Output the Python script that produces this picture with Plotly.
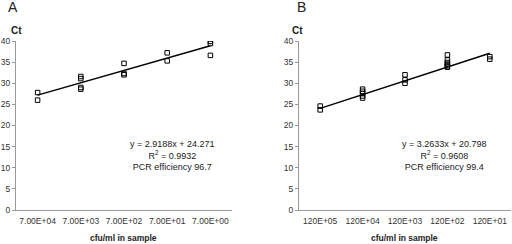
import plotly.graph_objects as go

# Panel A data
cats_a = ["7.00E+04", "7.00E+03", "7.00E+02", "7.00E+01", "7.00E+00"]
a_x = [1, 1, 2, 2, 2, 2, 3, 3, 3, 4, 4, 5, 5, 5]
a_ct = [27.8, 26.0, 31.6, 31.1, 29.0, 28.6, 34.7, 32.3, 32.0, 37.2, 35.3, 39.9, 39.4, 36.6]
a_slope, a_intercept = 2.9188, 24.271
a_text = "y = 2.9188x + 24.271<br>R<sup>2</sup> = 0.9932<br>PCR efficiency 96.7"

# Panel B data
cats_b = ["120E+05", "120E+04", "120E+03", "120E+02", "120E+01"]
b_x = [1, 1, 2, 2, 2, 2, 2, 3, 3, 3, 4, 4, 4, 4, 4, 4, 5, 5]
b_ct = [24.6, 23.7, 28.6, 28.1, 27.6, 27.0, 26.5, 32.0, 30.8, 30.0,
        36.7, 35.5, 34.9, 34.5, 34.1, 33.8, 36.3, 35.7]
b_slope, b_intercept = 3.2633, 20.798
b_text = "y = 3.2633x + 20.798<br>R<sup>2</sup> = 0.9608<br>PCR efficiency 99.4"

y_ticks = [0, 5, 10, 15, 20, 25, 30, 35, 40]
trend_x = [1, 5]

W, H = 512, 244
FONT = "Liberation Sans, Arial, sans-serif"

fig = go.Figure()

panels = [
    ("x", "y", a_x, a_ct, a_slope, a_intercept),
    ("x2", "y2", b_x, b_ct, b_slope, b_intercept),
]
for xa, ya, xs, ys, s, b in panels:
    fig.add_trace(go.Scatter(
        x=xs, y=ys, mode="markers", xaxis=xa, yaxis=ya,
        marker=dict(symbol="square-open", size=4.5, color="black",
                    line=dict(width=1, color="black")),
        showlegend=False, hoverinfo="skip"))
    fig.add_trace(go.Scatter(
        x=trend_x, y=[s * t + b for t in trend_x], mode="lines",
        xaxis=xa, yaxis=ya, line=dict(color="black", width=1.5),
        showlegend=False, hoverinfo="skip"))

ydom = [34 / H, 203 / H]
axis_common = dict(showgrid=False, zeroline=False, showline=True,
                   linecolor="#999999", linewidth=1, automargin=False,
                   tickfont=dict(family=FONT, size=8.5, color="#333333"))

fig.update_layout(
    width=W, height=H, margin=dict(l=0, r=0, t=0, b=0),
    paper_bgcolor="white", plot_bgcolor="white",
    xaxis=dict(domain=[16 / W, 232 / W], range=[0.5, 5.5],
               tickvals=[1, 2, 3, 4, 5], ticktext=cats_a, ticks="",
               ticklabelstandoff=3, anchor="y", **axis_common),
    yaxis=dict(domain=ydom, range=[0, 40], tickvals=y_ticks,
               ticks="outside", ticklen=3, tickcolor="#999999",
               anchor="x", **axis_common),
    xaxis2=dict(domain=[299 / W, 511 / W], range=[0.5, 5.5],
                tickvals=[1, 2, 3, 4, 5], ticktext=cats_b, ticks="",
                ticklabelstandoff=3, anchor="y2", **axis_common),
    yaxis2=dict(domain=ydom, range=[0, 40], tickvals=y_ticks,
                ticks="outside", ticklen=3, tickcolor="#999999",
                anchor="x2", **axis_common),
)

ann_font = dict(family=FONT, size=9, color="#222222")
anns = [
    dict(text="A", x=13 / W, y=1 - 7 / H, font=dict(family=FONT, size=14, color="#222")),
    dict(text="B", x=301 / W, y=1 - 7 / H, font=dict(family=FONT, size=14, color="#222")),
    dict(text="<b>Ct</b>", x=16 / W, y=1 - 31 / H, font=dict(family=FONT, size=10, color="#222")),
    dict(text="<b>Ct</b>", x=297 / W, y=1 - 31 / H, font=dict(family=FONT, size=10, color="#222")),
    dict(text="<b>cfu/ml in sample</b>", x=123 / W, y=1 - 238 / H,
         font=dict(family=FONT, size=8.5, color="#222")),
    dict(text="<b>cfu/ml in sample</b>", x=404 / W, y=1 - 238 / H,
         font=dict(family=FONT, size=8.5, color="#222")),
    dict(text=a_text, x=172 / W, y=1 - 155 / H, font=ann_font, align="center"),
    dict(text=b_text, x=444 / W, y=1 - 155 / H, font=ann_font, align="center"),
]
for a in anns:
    a.update(xref="paper", yref="paper", showarrow=False,
             xanchor="center", yanchor="middle")
fig.update_layout(annotations=anns)

fig.write_html("out.html", config={"displayModeBar": False},
               post_script="document.body.style.margin='0px';document.body.style.overflow='hidden';")
